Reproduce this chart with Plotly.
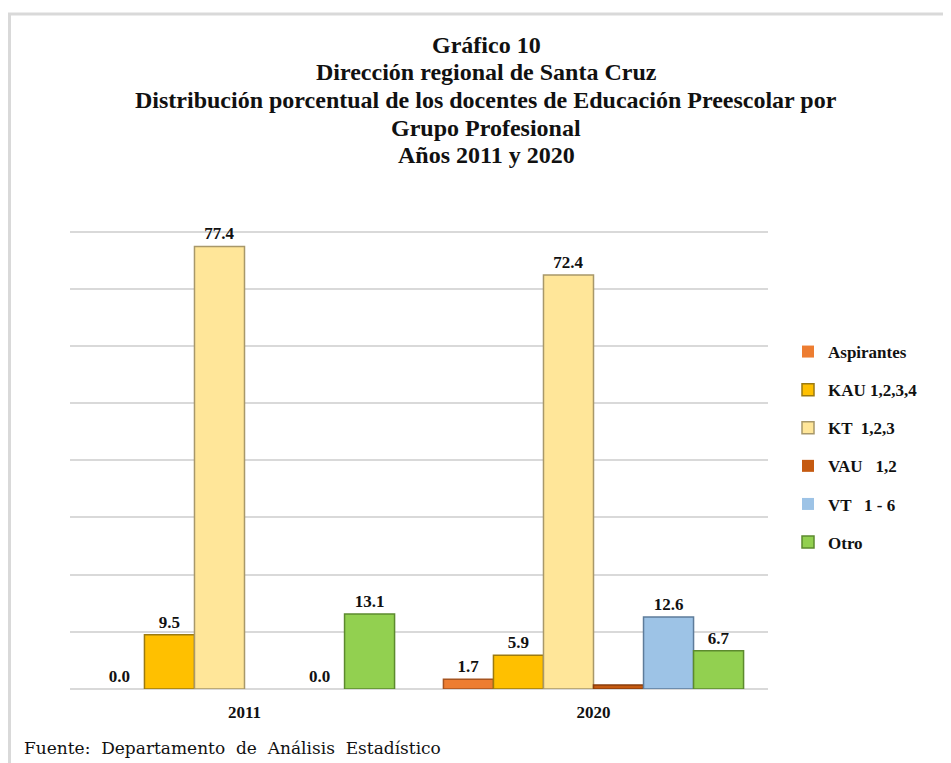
import plotly.graph_objects as go

categories = ["2011", "2020"]
series_names = ["Aspirantes", "KAU 1,2,3,4", "KT  1,2,3", "VAU   1,2", "VT   1 - 6", "Otro"]
aspirantes = [0.0, 1.7]
kau = [9.5, 5.9]
kt = [77.4, 72.4]
vau = [None, 0.7]
vt = [0.0, 12.6]
otro = [13.1, 6.7]
show_labels = [True, True, True, False, True, True]
title_lines = [
    "Gráfico 10",
    "Dirección regional de Santa Cruz",
    "Distribución porcentual de los docentes de Educación Preescolar por",
    "Grupo Profesional",
    "Años 2011 y 2020",
]
source_text = "Fuente:\u00a0 Departamento\u00a0 de\u00a0 Análisis\u00a0 Estadístico"

values = [aspirantes, kau, kt, vau, vt, otro]
fills = ["#ED7D31", "#FFC000", "#FFE699", "#C55A11", "#9DC3E6", "#92D050"]
edges = ["#A65420", "#9C7A10", "#A8986A", "#8A3E0B", "#5E7C9A", "#5C8A2E"]

FONT = "Liberation Serif, Times New Roman, serif"
FOOT_FONT = "DejaVu Serif, serif"

fig = go.Figure()
for i, (name, vals) in enumerate(zip(series_names, values)):
    txt = [("" if (v is None or not show_labels[i]) else f"{v:.1f}") for v in vals]
    lw = [(1.5 if (v is not None and v > 0) else 0) for v in vals]
    fig.add_trace(go.Bar(
        x=categories, y=vals, name=name,
        marker=dict(color=fills[i], line=dict(color=edges[i], width=lw)),
        text=txt, textposition="outside", cliponaxis=False,
        textfont=dict(family=FONT, size=17, color="#111111", weight="bold"),
        legendgroup=name,
    ))

# figure is placed at (8, 8) on the page by the default body margin
W, H = 943, 755
L, R, T, B = 62, 183, 166, 74
pw, ph = W - L - R, H - T - B

def px_x(x):
    return (x - L) / pw

def px_y(y):
    return (H - B - y) / ph

title_y = [37, 64, 92, 120, 147]
annotations = []
for line, y in zip(title_lines, title_y):
    annotations.append(dict(
        text=line, xref="paper", yref="paper", x=px_x(478), y=px_y(y),
        xanchor="center", yanchor="middle", showarrow=False,
        font=dict(family=FONT, size=24, color="#111111", weight="bold"),
    ))
annotations.append(dict(
    text=source_text, xref="paper", yref="paper",
    x=px_x(14), y=px_y(740), xanchor="left", yanchor="middle", showarrow=False,
    font=dict(family=FOOT_FONT, size=17, color="#111111"),
))

fig.update_layout(
    width=W, height=H,
    margin=dict(l=L, r=R, t=T, b=B),
    paper_bgcolor="white", plot_bgcolor="white",
    barmode="group", bargap=0.14, bargroupgap=0,
    font=dict(family=FONT, color="#111111"),
    xaxis=dict(showgrid=False, showline=False, ticks="", ticklabelstandoff=11,
               tickfont=dict(family=FONT, size=17, color="#111111", weight="bold")),
    yaxis=dict(range=[0, 90.08], dtick=10, showticklabels=False, showgrid=True,
               gridcolor="#D9D9D9", gridwidth=1.5, zeroline=True, zerolinecolor="#D9D9D9",
               zerolinewidth=1.5, showline=False, ticks=""),
    legend=dict(x=px_x(780), xanchor="left", y=px_y(439), yanchor="middle",
                font=dict(family=FONT, size=17, color="#111111", weight="bold"),
                traceorder="grouped", tracegroupgap=13, bgcolor="rgba(0,0,0,0)",
                itemwidth=30),
    showlegend=True,
    shapes=[
        dict(type="line", xref="paper", yref="paper", x0=px_x(0), x1=px_x(W), y0=px_y(6), y1=px_y(6),
             line=dict(color="#D9D9D9", width=3)),
        dict(type="line", xref="paper", yref="paper", x0=px_x(1.5), x1=px_x(1.5), y0=px_y(5), y1=px_y(H),
             line=dict(color="#D9D9D9", width=3)),
    ],
    annotations=annotations,
)

fig.write_html("out.html")
